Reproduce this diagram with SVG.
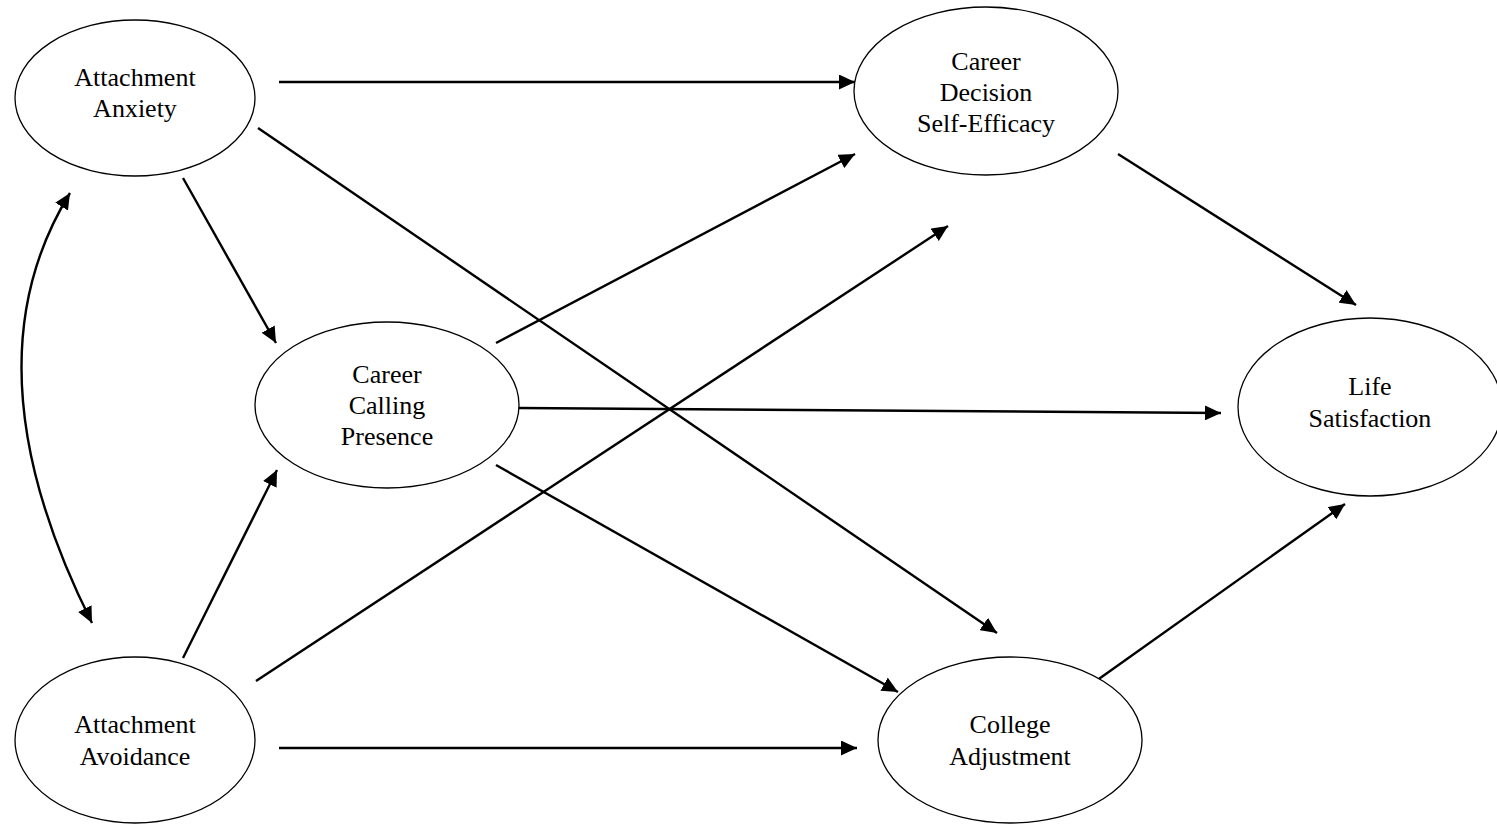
<svg xmlns="http://www.w3.org/2000/svg" width="1497" height="825" viewBox="0 0 1497 825">
<style>
.node ellipse{fill:#fff;stroke:#000;stroke-width:1.3}
.node text{font-family:"Liberation Serif","Times New Roman",serif;font-size:26px;fill:#000;text-anchor:middle}
.edges line,.edges path{stroke:#000;stroke-width:2.4;fill:none}
</style>
<defs>
<marker id="ah" markerUnits="userSpaceOnUse" markerWidth="18" markerHeight="15" refX="16" refY="7.5" orient="auto-start-reverse">
<path d="M0,0 L16,7.5 L0,15 z" fill="#000"/>
</marker>
</defs>
<rect width="1497" height="825" fill="#fff"/>
<g class="edges">
<line x1="279" y1="82" x2="855" y2="82" marker-end="url(#ah)"/>
<line x1="258" y1="128" x2="997" y2="633" marker-end="url(#ah)"/>
<line x1="183" y1="178" x2="276" y2="343" marker-end="url(#ah)"/>
<line x1="183" y1="658" x2="277" y2="470" marker-end="url(#ah)"/>
<line x1="256" y1="681" x2="948" y2="226" marker-end="url(#ah)"/>
<line x1="279" y1="748" x2="857" y2="748" marker-end="url(#ah)"/>
<line x1="496" y1="343" x2="855" y2="154" marker-end="url(#ah)"/>
<line x1="519" y1="408" x2="1221" y2="413" marker-end="url(#ah)"/>
<line x1="496" y1="465" x2="898" y2="692" marker-end="url(#ah)"/>
<line x1="1118" y1="154" x2="1356" y2="305" marker-end="url(#ah)"/>
<line x1="1096" y1="681" x2="1345" y2="504" marker-end="url(#ah)"/>
<path d="M70,193 Q-37,366 92,623" marker-start="url(#ah)" marker-end="url(#ah)"/>
</g>
<g id="attachment-anxiety" class="node">
<ellipse cx="135" cy="98" rx="120" ry="78"/>
<text x="135" y="86">Attachment</text>
<text x="135" y="117">Anxiety</text>
</g>
<g id="career-decision-self-efficacy" class="node">
<ellipse cx="986" cy="91" rx="132" ry="84"/>
<text x="986" y="70">Career</text>
<text x="986" y="101">Decision</text>
<text x="986" y="132">Self-Efficacy</text>
</g>
<g id="career-calling-presence" class="node">
<ellipse cx="387" cy="405" rx="132" ry="83"/>
<text x="387" y="383">Career</text>
<text x="387" y="414">Calling</text>
<text x="387" y="445">Presence</text>
</g>
<g id="life-satisfaction" class="node">
<ellipse cx="1370" cy="407" rx="132" ry="89"/>
<text x="1370" y="395">Life</text>
<text x="1370" y="427">Satisfaction</text>
</g>
<g id="attachment-avoidance" class="node">
<ellipse cx="135" cy="740" rx="120" ry="83"/>
<text x="135" y="733">Attachment</text>
<text x="135" y="765">Avoidance</text>
</g>
<g id="college-adjustment" class="node">
<ellipse cx="1010" cy="740" rx="132" ry="83"/>
<text x="1010" y="733">College</text>
<text x="1010" y="765">Adjustment</text>
</g>
</svg>
